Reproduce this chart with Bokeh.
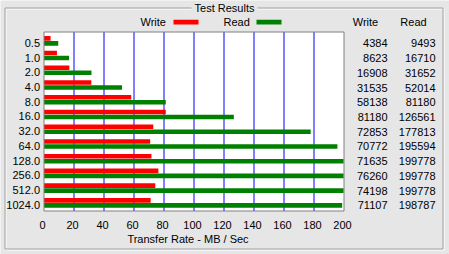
from bokeh.plotting import figure
from bokeh.models import Range1d, ColumnDataSource
from bokeh.core.properties import value
from bokeh.transform import dodge
from bokeh.embed import file_html
from bokeh.resources import INLINE

# ---- data ----
block_sizes = ["0.5", "1.0", "2.0", "4.0", "8.0", "16.0", "32.0", "64.0",
               "128.0", "256.0", "512.0", "1024.0"]
write_kbs = [4384, 8623, 16908, 31535, 58138, 81180, 72853, 70772,
             71635, 76260, 74198, 71107]
read_kbs = [9493, 16710, 31652, 52014, 81180, 126561, 177813, 195594,
            199778, 199778, 199778, 198787]
x_ticks = [0, 20, 40, 60, 80, 100, 120, 140, 160, 180, 200]
series_names = ["Write", "Read"]
series_colors = ["#FF0000", "#008000"]
chart_title = "Test Results"
x_title = "Transfer Rate - MB / Sec"

# ---- styling / layout ----
BG = "#E6E6E6"
FONT = value("Liberation Sans")
FS = value("11px")
W, H = 449, 254


def sx(px):  # screen x (px) -> data x
    return (px - 43.5) / 1.5


def sy(py):  # screen y (px) -> data row
    return (py - 40.35) / 14.727


Y_TOP, Y_BOT = sy(31.5), sy(210.5)

rows = list(range(len(block_sizes)))
src = ColumnDataSource(dict(
    row=rows,
    size=block_sizes,
    write=[v / 1000 for v in write_kbs],
    read=[v / 1000 for v in read_kbs],
    write_txt=[str(v) for v in write_kbs],
    read_txt=[str(v) for v in read_kbs],
))

p = figure(width=W, height=H, output_backend="svg", toolbar_location=None,
           x_range=Range1d(sx(0), sx(W)), y_range=Range1d(sy(H), sy(0)),
           x_axis_location=None, y_axis_location=None,
           min_border=0, min_border_left=0, min_border_right=0,
           min_border_top=0, min_border_bottom=0,
           background_fill_color=BG, border_fill_color=BG,
           outline_line_color=None)
p.grid.visible = False

txt = dict(text_font=FONT, text_font_size=FS, text_color="black",
           text_baseline="middle")

# group box (etched frame)
p.quad(left=sx(5.5), right=sx(443.5), top=sy(8.5), bottom=sy(249.5),
       fill_color=None, line_color="white", line_width=1)
p.quad(left=sx(4.5), right=sx(442.5), top=sy(7.5), bottom=sy(248.5),
       fill_color=None, line_color="#A0A0A0", line_width=1)
# title gap in the frame
p.quad(left=sx(191), right=sx(257), top=sy(1), bottom=sy(14),
       fill_color=BG, line_color=None)
p.text(x=[sx(224)], y=[sy(7.5)], text=[chart_title], text_align="center", **txt)

# plot area
p.quad(left=[0], right=[200], top=[Y_TOP], bottom=[Y_BOT],
       fill_color="white", line_color=None)
p.segment(x0=x_ticks[1:-1], x1=x_ticks[1:-1], y0=Y_TOP, y1=Y_BOT,
          line_color="#0000FF", line_width=1)

# bars
p.hbar(y=dodge("row", -0.17), left=0, right="write", height=0.31,
       fill_color=series_colors[0], line_color=None, source=src)
p.hbar(y=dodge("row", 0.17), left=0, right="read", height=0.31,
       fill_color=series_colors[1], line_color=None, source=src)

# plot outline
p.quad(left=[0], right=[200], top=[Y_TOP], bottom=[Y_BOT],
       fill_color=None, line_color="#808080", line_width=1)

# y tick labels (block sizes)
p.text(x=sx(39.5), y="row", text="size", source=src, text_align="right",
       y_offset=2, **txt)

# x tick labels
p.text(x=x_ticks, y=[sy(224.5)] * len(x_ticks), text=[str(t) for t in x_ticks],
       text_align="center", x_offset=-1.5, **txt)
p.text(x=[sx(187.5)], y=[sy(238)], text=[x_title], text_align="center", **txt)

# legend: text followed by swatch
legend_text_px = [140, 223]
legend_box_px = [(173, 198), (256, 281)]
for name, color, tpx, (b0, b1) in zip(series_names, series_colors,
                                      legend_text_px, legend_box_px):
    p.text(x=[sx(tpx)], y=[sy(21.7)], text=[name], text_align="left", **txt)
    p.quad(left=[sx(b0)], right=[sx(b1)], top=[sy(19.3)], bottom=[sy(24)],
           fill_color=color, line_color=None)

# value table
p.text(x=[sx(365)], y=[sy(21.7)], text=[series_names[0]], text_align="center", **txt)
p.text(x=[sx(413)], y=[sy(21.7)], text=[series_names[1]], text_align="center", **txt)
p.text(x=sx(387), y="row", text="write_txt", source=src, text_align="right",
       y_offset=2.5, **txt)
p.text(x=sx(435), y="row", text="read_txt", source=src, text_align="right",
       y_offset=2.5, **txt)

open("out.html", "w").write(file_html(p, INLINE))
